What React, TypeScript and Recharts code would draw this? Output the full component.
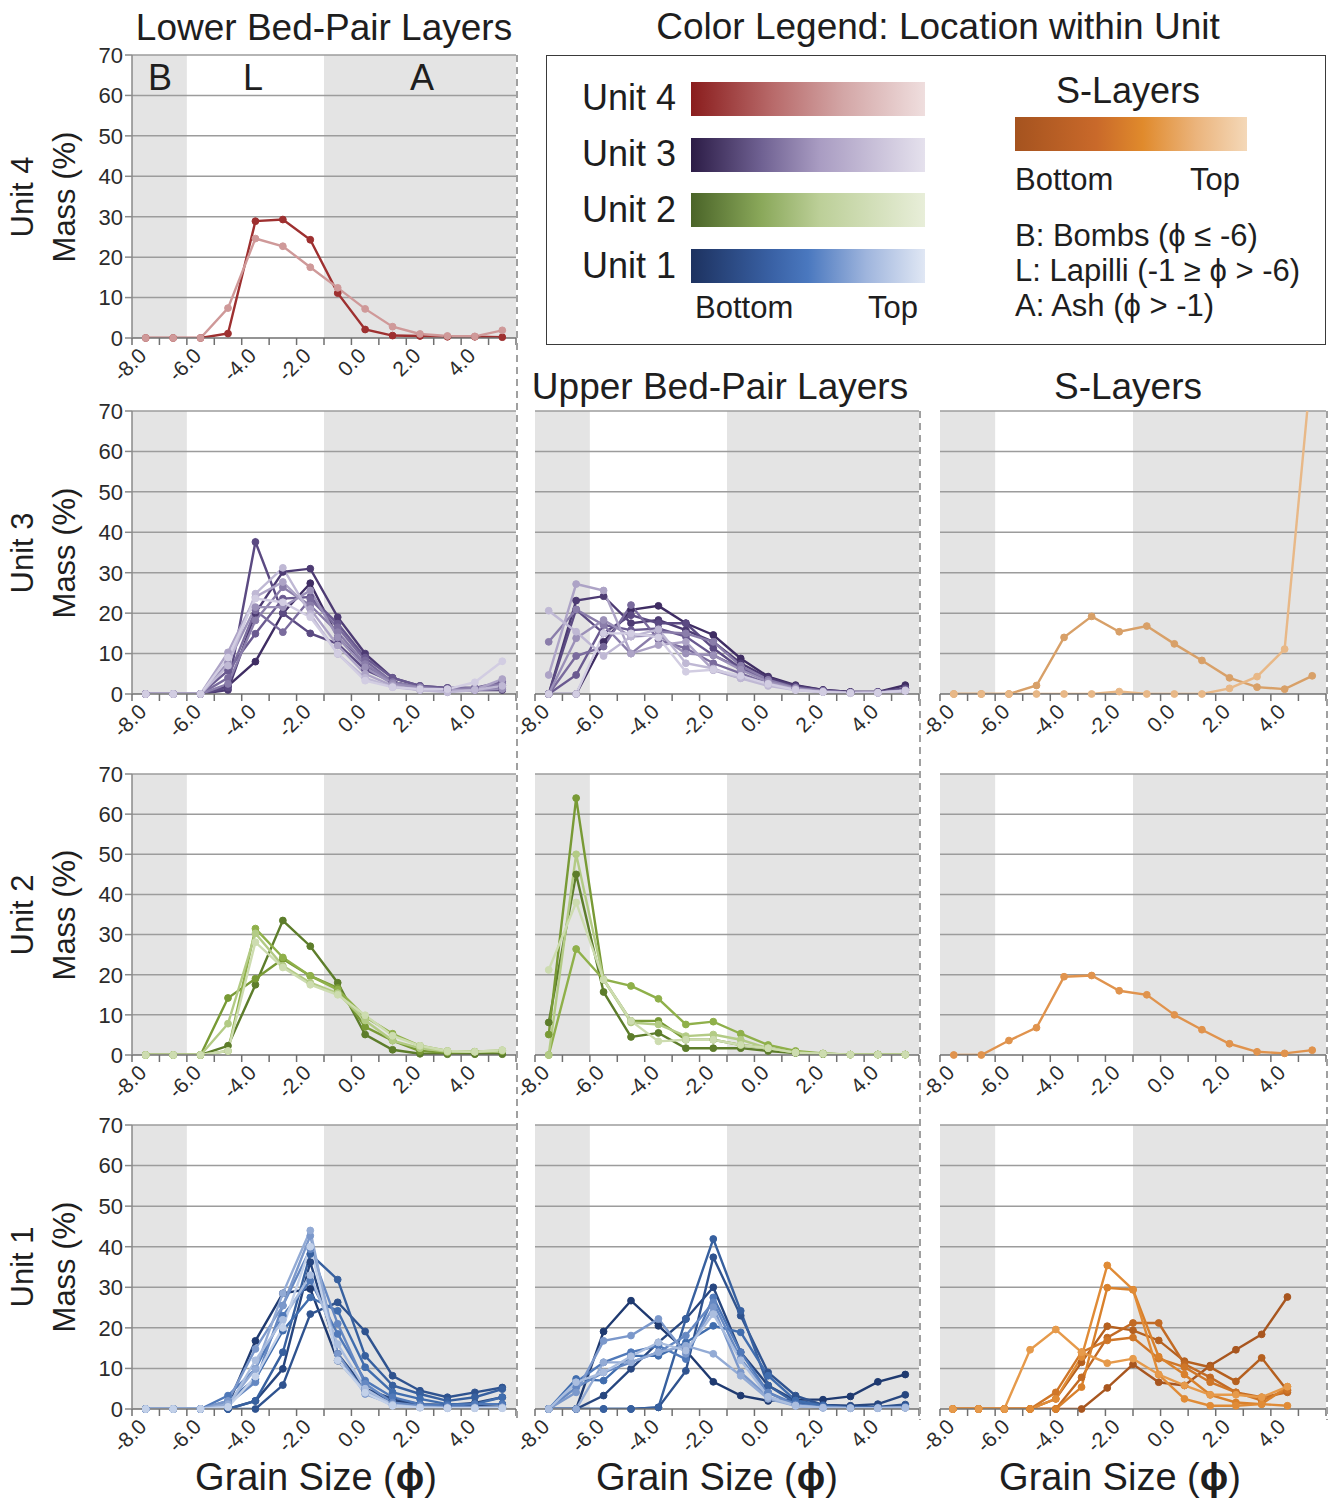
import React from "react";
import { LineChart, Line, XAxis, YAxis, ReferenceArea, ReferenceLine } from "recharts";

// grain size classes (phi) and mass ticks
const phi = [-8, -7, -6, -5, -4, -3, -2, -1, 0, 1, 2, 3, 4, 5];
const phiLabels = [-8, -6, -4, -2, 0, 2, 4];
const massTicks = [0, 10, 20, 30, 40, 50, 60, 70];

// Unit 4 - lower bed-pair layers (bottom -> top)
const unit4Lower = [
  [0, 0, 0, 1.1, 28.9, 29.3, 24.3, 11.1, 2.1, 0.6, 0.5, 0.3, 0.3, 0.2],
  [0, 0, 0, 7.4, 24.6, 22.7, 17.5, 12.4, 7.2, 2.8, 1.0, 0.5, 0.4, 1.9],
];

// Unit 3
const unit3Lower = [
  [0, 0, 0, 2, 8, 20, 27.4, 14, 7, 3, 1.5, 1, 1, 1],
  [0, 0, 0, 1, 20, 30.2, 31, 19, 10, 4, 2, 1.5, 1.5, 2],
  [0, 0, 0, 1.6, 37.6, 20, 15, 12.4, 6, 3, 1.5, 1, 1, 1.5],
  [0, 0, 0, 5.8, 14.9, 23.6, 24, 17.4, 9, 4, 2, 1.5, 1.5, 3],
  [0, 0, 0, 4, 20.7, 15.3, 23.5, 16.5, 8.3, 3, 1.5, 1, 1, 2],
  [0, 0, 0, 2.5, 18.2, 26.4, 21.9, 15.3, 7.4, 2.9, 1.7, 1.2, 1.5, 2.5],
  [0, 0, 0, 7.8, 21.5, 21.5, 25.6, 14, 6.6, 2.5, 1.5, 1, 1, 1.2],
  [0, 0, 0, 10.3, 24, 27.7, 21, 12, 5, 2, 1, 0.8, 1, 3.7],
  [0, 0, 0, 7, 24.8, 31.2, 19.8, 9.9, 4, 1.7, 1, 0.4, 1, 2],
  [0, 0, 0, 9, 23.6, 22.7, 19, 10, 3.3, 1.7, 1.2, 1.2, 2.9, 8.1],
];
const unit3Upper = [
  [0, 0, 12.9, 20.8, 21.8, 17.5, 14.6, 8.8, 4.3, 2.2, 1, 0.5, 0.5, 2.2],
  [0, 23.1, 24.2, 17.5, 18.3, 15.8, 12.9, 7.6, 4, 2, 1, 0.5, 0.5, 1.4],
  [0, 20.9, 15, 19.5, 17.5, 17.5, 11.3, 6.3, 3.5, 1.8, 0.8, 0.3, 0.5, 1.4],
  [0, 4.7, 17.1, 15.8, 16.2, 14.2, 9.6, 6.3, 3, 1.4, 0.8, 0.3, 0.5, 1],
  [0, 9.4, 11.7, 22, 13.4, 11.3, 7.6, 5.1, 2.6, 1.4, 0.5, 0.3, 0.3, 0.8],
  [12.9, 20.9, 17.1, 10, 15.4, 15, 12.9, 7, 3.5, 1.5, 0.8, 0.3, 0.3, 1],
  [0, 13.8, 18.3, 14.2, 14.6, 10, 9.6, 6, 3, 1.4, 0.5, 0.3, 0.3, 0.8],
  [4.7, 27.2, 25.6, 10, 12.1, 12.9, 5.9, 3.9, 2.6, 1.2, 0.5, 0.3, 0.3, 0.8],
  [20.6, 15.4, 9.4, 14.2, 16, 7.6, 6.3, 3.9, 2, 1, 0.5, 0.2, 0.3, 0.8],
  [0, 0, 15, 15, 14, 5.5, 6, 4.5, 2.5, 1, 0.5, 0.2, 0.3, 0.8],
];
const unit3S = [
  [0, 0, 0, 2.1, 14, 19.2, 15.4, 16.8, 12.4, 8.3, 4, 1.7, 1.2, 4.5],
  [0, 0, 0, 0, 0, 0, 0.6, 0, 0, 0, 1.4, 4.3, 11.1, 83],
];

// Unit 2
const unit2Lower = [
  [0, 0, 0, 2.3, 17.5, 33.5, 27.1, 18, 5.1, 1.3, 0.3, 0.2, 0.2, 0.2],
  [0, 0, 0, 14.2, 19, 23.9, 19.7, 16.7, 7, 3.6, 1, 0.6, 0.8, 1],
  [0, 0, 0, 1, 31.5, 24.3, 19.7, 16.3, 9.5, 5.3, 2.3, 1, 0.8, 1],
  [0, 0, 0, 7.8, 30.3, 22.2, 18, 15.4, 8.6, 3.6, 1.7, 0.8, 0.8, 1.2],
  [0, 0, 0, 1, 28.1, 21.8, 17.5, 15, 9.9, 4.8, 2.3, 1, 0.8, 1.2],
];
const unit2Upper = [
  [8.1, 45, 15.7, 4.5, 5.5, 1.7, 1.7, 1.7, 1, 0.5, 0.2, 0.1, 0.1, 0.1],
  [5.1, 64, 18.8, 8.5, 8.5, 3.8, 3.8, 2.5, 1.7, 0.6, 0.3, 0.1, 0.1, 0.1],
  [0, 26.4, 18.8, 17.2, 14, 7.6, 8.3, 5.3, 2.5, 1, 0.4, 0.1, 0.1, 0.1],
  [0, 50, 18.8, 8.1, 7.6, 4.7, 5.1, 3.8, 1.7, 0.6, 0.3, 0.1, 0.1, 0.1],
  [21.2, 38, 18.8, 8.5, 3.4, 3.8, 3.8, 2.5, 1.7, 0.6, 0.3, 0.1, 0.1, 0.1],
];
const unit2S = [[0, 0, 3.6, 6.8, 19.5, 19.8, 16, 15, 10, 6.3, 2.8, 0.8, 0.4, 1.2]];

// Unit 1
const unit1Lower = [
  [0, 0, 0, 1, 16.8, 28.5, 29.6, 11.9, 4.5, 2, 1, 0.8, 1, 1.2],
  [0, 0, 0, 0, 2, 9.9, 36.2, 13.6, 5, 2.5, 1.2, 1, 1.5, 2.9],
  [0, 0, 0, 0, 0, 5.9, 23.4, 26.3, 19.1, 8.2, 4.5, 2.9, 4.1, 5.3],
  [0, 0, 0, 0, 2, 14, 38.2, 31.9, 13.1, 5.8, 3.7, 2, 2.9, 4.9],
  [0, 0, 0, 2, 7.4, 19.3, 27.5, 24.2, 10.3, 4.1, 2.5, 1.2, 1.2, 2.9],
  [0, 0, 0, 3.3, 9.9, 23, 31.6, 18.5, 7, 2.9, 1.2, 0.8, 1.2, 1.2],
  [0, 0, 0, 1.2, 6.6, 25.5, 39.4, 21, 6.2, 1.6, 0.8, 0.4, 0.4, 0.4],
  [0, 0, 0, 2, 14.8, 25.5, 42.7, 13.6, 3.7, 1.2, 0.4, 0.4, 0.4, 0.4],
  [0, 0, 0, 1.2, 9.9, 28.5, 44, 11.9, 4.5, 0.8, 0.4, 0.2, 0.2, 0.4],
  [0, 0, 0, 0.5, 12, 22, 33, 16, 5, 1, 0.4, 0.2, 0.2, 0.2],
  [0, 0, 0, 0.5, 8, 20, 40, 12, 4, 0.8, 0.3, 0.2, 0.2, 0.2],
];
const unit1Upper = [
  [0, 0, 19.1, 26.7, 20.5, 14.4, 6.7, 3.3, 2, 2.3, 2.3, 3.1, 6.7, 8.5],
  [0, 0, 3.3, 9.9, 16.4, 22.2, 30, 14, 5.8, 2.1, 1, 0.8, 1.2, 3.5],
  [0, 0, 0, 0, 0.4, 9.4, 37.4, 23, 9, 3.3, 1, 0.5, 0.5, 1.1],
  [0, 0, 0, 0, 0.4, 22.2, 41.9, 24.2, 5.8, 1.5, 0.5, 0.3, 0.3, 0.5],
  [0, 7.4, 7, 13.1, 13.1, 16.4, 20.5, 18.9, 8.2, 2.1, 0.8, 0.3, 0.3, 0.5],
  [0, 6.6, 11.5, 14, 15.6, 12.3, 27.5, 14, 4.1, 1.2, 0.5, 0.3, 0.3, 0.5],
  [0, 5.3, 9, 11.5, 14, 18.1, 26.3, 12.3, 4, 1, 0.4, 0.2, 0.2, 0.3],
  [0, 4.1, 16.8, 18.1, 22.2, 13.6, 25.1, 9, 3, 0.8, 0.3, 0.2, 0.2, 0.3],
  [0, 0, 11.5, 11.5, 14, 15.6, 13.6, 8.2, 2.5, 0.8, 0.3, 0.2, 0.2, 0.3],
  [0, 6.6, 9, 13, 16.4, 14.4, 23.4, 12, 3, 0.8, 0.3, 0.2, 0.2, 0.3],
];
const unit1S = [
  [0, 0, 0, 0, 0, 0, 5.2, 11, 6.6, 5.8, 10.7, 14.6, 18.4, 27.6],
  [0, 0, 0, 0, 2.5, 11.5, 20.4, 19.4, 16.9, 11.8, 10.3, 6.8, 12.6, 4.5],
  [0, 0, 0, 0, 0, 7.8, 17.6, 21.2, 21.2, 11.1, 7.8, 4.1, 2.9, 4.1],
  [0, 0, 0, 0, 4.1, 14, 16.9, 17.6, 12.4, 10.3, 6.6, 4.1, 2.1, 4.7],
  [0, 0, 0, 0, 0, 5.4, 29.9, 29.4, 12.9, 8.5, 3.5, 1.6, 1.2, 5.5],
  [0, 0, 0, 0, 2.5, 12.8, 35.4, 29.4, 8.5, 2.5, 0.8, 0.8, 1.2, 0.8],
  [0, 0, 0, 14.6, 19.6, 14, 11.3, 12.4, 8.5, 5.8, 3.5, 3.5, 2.9, 5.5],
];

// colour ramps, bottom -> top
const red = ["#9e3030", "#cf9999"];
const purple = ["#3f2d63", "#4d3b73", "#5b4a82", "#6a5a90", "#7a6b9d", "#8a7daa", "#9b90b8", "#ada3c6", "#bfb8d4", "#d2cde2"];
const green = ["#5d7d2b", "#789a35", "#8fb04a", "#b3cb85", "#cddcb0"];
const blue = ["#1f3a70", "#27467f", "#2f538f", "#37609f", "#406dae", "#5079b9", "#6588c2", "#7b98cb", "#93abd5", "#abbedf", "#c3d1e9"];
const orange = ["#a8561f", "#b5601f", "#c26a24", "#cf7628", "#d9812c", "#e08b36", "#e69a4b"];

const FONT = "'Liberation Sans', Arial, Helvetica, sans-serif";

function XTick(props: any) {
  const { x, y, payload, step, last } = props;
  const v = payload.value;
  const tx = x + step / 2;
  return (
    <g>
      <line x1={x - step / 2} x2={x - step / 2} y1={y} y2={y + 7} stroke="#707070" strokeWidth={1.5} />
      {v === last && <line x1={tx} x2={tx} y1={y} y2={y + 7} stroke="#707070" strokeWidth={1.5} />}
      {phiLabels.includes(v) && (
        <text
          x={x + 2}
          y={y + 19}
          textAnchor="end"
          fontSize={21}
          fill="#2b2b2b"
          transform={`rotate(-45 ${x + 2} ${y + 19})`}
        >
          {v.toFixed(1)}
        </text>
      )}
    </g>
  );
}

// ptsMax: the S-layer Unit 1 panel plots its points on a wider (15-class) scale
function Panel(props: any) {
  const { left, top, w, h, series, colors, yLabels, ptsMax } = props;
  const yW = yLabels ? 52 : 12;
  const padL = yLabels ? 0 : 24;
  const xMin = phi[0] - 0.5;
  const xMax = phi[phi.length - 1] + 0.5;
  const step = w / phi.length;
  const lineAxis = ptsMax ? "pts" : 0;
  const rows = phi.map((x: number, i: number) => {
    const r: any = { x };
    series.forEach((s: number[], j: number) => {
      if (s[i] !== undefined) r["s" + j] = s[i];
    });
    return r;
  });
  return (
    <div style={{ position: "absolute", left: left - yW - padL, top: top - 20 }}>
      <LineChart
        width={padL + yW + w + 12}
        height={h + 85}
        data={rows}
        margin={{ top: 20, right: 12, bottom: 0, left: padL }}
      >
        <XAxis
          dataKey="x"
          type="number"
          domain={[xMin, xMax]}
          ticks={phi}
          interval={0}
          height={65}
          tickLine={false}
          tickSize={0}
          tickMargin={0}
          axisLine={{ stroke: "#707070", strokeWidth: 1.5 }}
          tick={(p: any) => <XTick {...p} step={step} last={phi[phi.length - 1]} />}
        />
        {ptsMax && (
          <XAxis xAxisId="pts" dataKey="x" type="number" domain={[xMin, ptsMax]} hide height={0} />
        )}
        <YAxis
          type="number"
          domain={[0, 70]}
          ticks={massTicks}
          allowDataOverflow
          interval={0}
          width={yW}
          tickSize={7}
          tickMargin={2}
          tickLine={{ stroke: "#8a8a8a", strokeWidth: 1.5 }}
          axisLine={yLabels ? { stroke: "#8a8a8a", strokeWidth: 1.5 } : false}
          tick={yLabels ? { fontSize: 22, fill: "#2b2b2b" } : false}
        />
        <ReferenceArea x1={xMin} x2={-6.5} fill="#e4e4e4" fillOpacity={1} stroke="none" />
        <ReferenceArea x1={-1.5} x2={xMax} fill="#e4e4e4" fillOpacity={1} stroke="none" />
        {massTicks.slice(1).map((v) => (
          <ReferenceLine key={v} y={v} stroke="#9c9c9c" strokeWidth={1.5} />
        ))}
        {series.map((s: number[], j: number) => (
          <Line
            key={j}
            xAxisId={lineAxis}
            type="linear"
            dataKey={"s" + j}
            stroke={colors[j]}
            strokeWidth={2.4}
            dot={{ r: 3.4, fill: colors[j], stroke: colors[j], strokeWidth: 1, clipDot: false }}
            activeDot={false}
            isAnimationActive={false}
          />
        ))}
      </LineChart>
    </div>
  );
}

function Txt(props: any) {
  const { x, y, size, anchor = "middle", rotate = false, children } = props;
  const tx = anchor === "start" ? "0" : anchor === "end" ? "-100%" : "-50%";
  return (
    <div
      style={{
        position: "absolute",
        left: x,
        top: y,
        fontSize: size,
        lineHeight: 1,
        whiteSpace: "nowrap",
        color: "#1e1e1e",
        transform: rotate ? "translate(-50%,-50%) rotate(-90deg)" : `translate(${tx},-50%)`,
      }}
    >
      {children}
    </div>
  );
}

function Bar({ x, y, w, bg }: any) {
  return <div style={{ position: "absolute", left: x, top: y, width: w, height: 34, background: bg }} />;
}

const cols = [132, 535, 940];
const rowsY = [
  { top: 55, h: 283 },
  { top: 411, h: 283 },
  { top: 774, h: 281 },
  { top: 1125, h: 284 },
];

function Dashed({ x, y1, y2 }: any) {
  return (
    <div
      style={{
        position: "absolute",
        left: x - 1,
        top: y1,
        height: y2 - y1,
        width: 1.5,
        background: "repeating-linear-gradient(to bottom, #a0a0a0 0px, #a0a0a0 7px, transparent 7px, transparent 12px)",
      }}
    />
  );
}

export default function App() {
  const units = ["Unit 4", "Unit 3", "Unit 2", "Unit 1"];
  return (
    <div style={{ position: "absolute", left: 0, top: 0, width: 1329, height: 1498, background: "#fff", fontFamily: FONT }}>
      <Txt x={324} y={27} size={37}>Lower Bed-Pair Layers</Txt>
      <Txt x={938} y={26} size={37}>Color Legend: Location within Unit</Txt>
      <Txt x={720} y={386} size={37}>Upper Bed-Pair Layers</Txt>
      <Txt x={1128} y={386} size={37}>S-Layers</Txt>

      {rowsY.map((r, i) => (
        <React.Fragment key={i}>
          <Txt x={22} y={r.top + r.h / 2} size={31} rotate>{units[i]}</Txt>
          <Txt x={64} y={r.top + r.h / 2} size={31} rotate>Mass (%)</Txt>
        </React.Fragment>
      ))}

      <Panel left={cols[0]} top={rowsY[0].top} w={384} h={rowsY[0].h} series={unit4Lower} colors={red} yLabels />
      <Panel left={cols[0]} top={rowsY[1].top} w={384} h={rowsY[1].h} series={unit3Lower} colors={purple} yLabels />
      <Panel left={cols[1]} top={rowsY[1].top} w={384} h={rowsY[1].h} series={unit3Upper} colors={purple} />
      <Panel left={cols[2]} top={rowsY[1].top} w={386} h={rowsY[1].h} series={unit3S} colors={["#d8a068", "#e8b887"]} />
      <Panel left={cols[0]} top={rowsY[2].top} w={384} h={rowsY[2].h} series={unit2Lower} colors={green} yLabels />
      <Panel left={cols[1]} top={rowsY[2].top} w={384} h={rowsY[2].h} series={unit2Upper} colors={green} />
      <Panel left={cols[2]} top={rowsY[2].top} w={386} h={rowsY[2].h} series={unit2S} colors={["#e0934d"]} />
      <Panel left={cols[0]} top={rowsY[3].top} w={384} h={rowsY[3].h} series={unit1Lower} colors={blue} yLabels />
      <Panel left={cols[1]} top={rowsY[3].top} w={384} h={rowsY[3].h} series={unit1Upper} colors={blue} />
      <Panel left={cols[2]} top={rowsY[3].top} w={386} h={rowsY[3].h} series={unit1S} colors={orange} ptsMax={6.5} />

      <Txt x={160} y={78} size={36}>B</Txt>
      <Txt x={253} y={78} size={36}>L</Txt>
      <Txt x={422} y={78} size={36}>A</Txt>

      <Dashed x={517} y1={55} y2={1420} />
      <Dashed x={920} y1={411} y2={1420} />
      <Dashed x={1327} y1={411} y2={1420} />

      {/* legend box */}
      <div style={{ position: "absolute", left: 546, top: 55, width: 780, height: 290, boxSizing: "border-box", border: "1.5px solid #3a3a3a" }} />
      <Txt x={676} y={98} size={36} anchor="end">Unit 4</Txt>
      <Txt x={676} y={154} size={36} anchor="end">Unit 3</Txt>
      <Txt x={676} y={210} size={36} anchor="end">Unit 2</Txt>
      <Txt x={676} y={266} size={36} anchor="end">Unit 1</Txt>
      <Bar x={691} y={82} w={234} bg="linear-gradient(to right, #8a1d1d, #b86a6a 35%, #d3a6a6 65%, #efdede)" />
      <Bar x={691} y={138} w={234} bg="linear-gradient(to right, #2c1c46, #6f6192 30%, #a99cc2 55%, #e5e1ed)" />
      <Bar x={691} y={193} w={234} bg="linear-gradient(to right, #4a6428, #8aa85a 30%, #bccf98 55%, #e8eed9)" />
      <Bar x={691} y={249} w={234} bg="linear-gradient(to right, #1d3260, #3a62a6 35%, #4a78bf 50%, #9fb5dd 75%, #e0e7f4)" />
      <Txt x={695} y={307} size={31} anchor="start">Bottom</Txt>
      <Txt x={918} y={307} size={31} anchor="end">Top</Txt>

      <Txt x={1128} y={91} size={36}>S-Layers</Txt>
      <Bar x={1015} y={117} w={232} bg="linear-gradient(to right, #a5531f, #c9692a 35%, #e08a2c 55%, #ebb47c 78%, #f4d8b8)" />
      <Txt x={1015} y={179} size={31} anchor="start">Bottom</Txt>
      <Txt x={1240} y={179} size={31} anchor="end">Top</Txt>
      <Txt x={1015} y={235} size={31} anchor="start">B: Bombs (ϕ ≤ -6)</Txt>
      <Txt x={1015} y={270} size={31} anchor="start">L: Lapilli (-1 ≥ ϕ &gt; -6)</Txt>
      <Txt x={1015} y={305} size={31} anchor="start">A: Ash (ϕ &gt; -1)</Txt>

      <Txt x={316} y={1477} size={38}>Grain Size (<b>ϕ</b>)</Txt>
      <Txt x={717} y={1477} size={38}>Grain Size (<b>ϕ</b>)</Txt>
      <Txt x={1120} y={1477} size={38}>Grain Size (<b>ϕ</b>)</Txt>
    </div>
  );
}
